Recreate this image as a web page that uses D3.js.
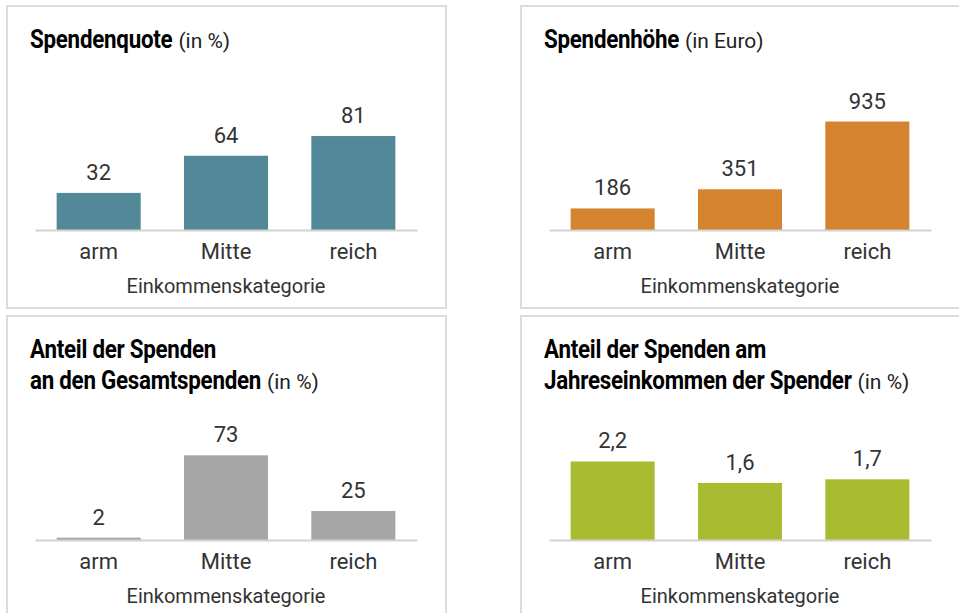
<!DOCTYPE html>
<html>
<head>
<meta charset="utf-8">
<script src="https://cdn.jsdelivr.net/npm/d3@7"></script>
<style>
  body { margin: 0; background: #fff; }
  svg { display: block; }
</style>
</head>
<body>
<div id="chart"></div>
<script>
const categories = ["arm", "Mitte", "reich"];

const quoteValues = [32, 64, 81];          // Spendenquote (in %)
const amountValues = [186, 351, 935];      // Spendenhöhe (in Euro)
const shareValues = [2, 73, 25];           // Anteil an den Gesamtspenden (in %)
const incomeValues = [2.2, 1.6, 1.7];      // Anteil am Jahreseinkommen (in %)

const axisTitle = "Einkommenskategorie";

const width = 959, height = 613;
const PANEL_W = 439, PANEL_H = 302;
const BASE_Y = 224;      // baseline inside a panel
const BAR_SPACE = 116;   // pixels for the y max
const SQUEEZE = 0.86;    // fake a condensed bold face

const de = d3.formatLocale({ decimal: ",", thousands: ".", grouping: [3], currency: ["", " €"] });

const panels = [
  { x: 7,   y: 6,   title: ["Spendenquote"], unit: "(in %)", values: quoteValues, max: 100, color: "#528897", fmt: de.format("d") },
  { x: 521, y: 6,   title: ["Spendenhöhe"], unit: "(in Euro)", values: amountValues, max: 1000, color: "#d4832f", fmt: de.format("d") },
  { x: 7,   y: 316, title: ["Anteil der Spenden", "an den Gesamtspenden"], unit: "(in %)", values: shareValues, max: 100, color: "#a6a6a6", fmt: de.format("d") },
  { x: 521, y: 316, title: ["Anteil der Spenden am", "Jahreseinkommen der Spender"], unit: "(in %)", values: incomeValues, max: 3.25, color: "#a9bb31", fmt: de.format(".1f") }
];

const svg = d3.select("#chart").append("svg")
  .attr("width", width)
  .attr("height", height);

const textFont = "Roboto, 'Open Sans', sans-serif";

panels.forEach(function (p) {
  const g = svg.append("g").attr("transform", `translate(${p.x},${p.y})`);

  g.append("rect")
    .attr("x", 0).attr("y", 0)
    .attr("width", PANEL_W).attr("height", PANEL_H)
    .attr("fill", "#fff")
    .attr("stroke", "#dcdcdc")
    .attr("stroke-width", 2);

  // title lines, squeezed horizontally; unit follows the last line
  p.title.forEach(function (line, i) {
    const ty = 42 + i * 31;
    const t = g.append("g")
      .attr("transform", `translate(23,${ty}) scale(${SQUEEZE},1)`)
      .append("text")
      .style("font-family", textFont)
      .style("font-weight", "bold")
      .style("font-size", "26px")
      .style("letter-spacing", "-0.3px")
      .attr("fill", "#000")
      .text(line);
    if (i === p.title.length - 1) {
      const w = t.node().getComputedTextLength() * SQUEEZE;
      g.append("text")
        .attr("x", 23 + w + 6)
        .attr("y", ty)
        .style("font-family", textFont)
        .style("font-size", "21px")
        .attr("fill", "#222")
        .text(p.unit);
    }
  });

  const x = d3.scaleBand()
    .domain(categories)
    .range([28, 410])
    .paddingInner(0.34)
    .paddingOuter(0.17);

  const y = d3.scaleLinear()
    .domain([0, p.max])
    .range([BASE_Y, BASE_Y - BAR_SPACE]);

  const data = categories.map((c, i) => ({ cat: c, value: p.values[i] }));

  g.selectAll("rect.bar")
    .data(data)
    .enter().append("rect")
    .attr("class", "bar")
    .attr("x", d => x(d.cat))
    .attr("width", x.bandwidth())
    .attr("y", d => y(d.value))
    .attr("height", d => y(0) - y(d.value))
    .attr("fill", p.color);

  g.selectAll("text.val")
    .data(data)
    .enter().append("text")
    .attr("class", "val")
    .attr("x", d => x(d.cat) + x.bandwidth() / 2)
    .attr("y", d => y(d.value) - 13)
    .attr("text-anchor", "middle")
    .style("font-family", textFont)
    .style("font-size", "22px")
    .attr("fill", "#333")
    .text(d => p.fmt(d.value));

  // category axis
  const axis = g.append("g")
    .attr("transform", `translate(0,${BASE_Y})`)
    .call(d3.axisBottom(x).tickSize(0).tickPadding(8).tickSizeOuter(0));
  axis.select(".domain")
    .attr("stroke", "#d2d2d2")
    .attr("stroke-width", 2);
  axis.selectAll(".tick text")
    .style("font-family", textFont)
    .style("font-size", "22px")
    .attr("fill", "#333")
    .attr("dy", "0.95em");

  g.append("text")
    .attr("x", 219)
    .attr("y", 287)
    .attr("text-anchor", "middle")
    .style("font-family", textFont)
    .style("font-size", "20px")
    .attr("fill", "#333")
    .text(axisTitle);
});
</script>
</body>
</html>
